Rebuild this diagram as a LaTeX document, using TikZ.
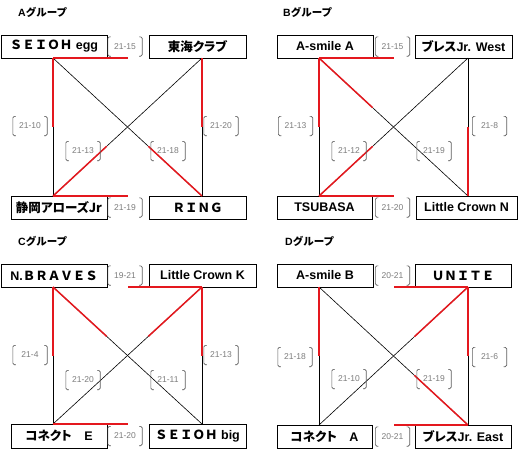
\documentclass[tikz,border=0pt]{standalone}
\usepackage{fontspec}
\setmainfont{Liberation Sans}
\newfontfamily\jp{Noto Sans CJK JP}
\newfontfamily\jpp{Noto Sans CJK JP}[RawFeature=+palt]
\usetikzlibrary{calc}
\definecolor{winred}{RGB}{228,24,30}
\definecolor{scoregray}{RGB}{125,125,125}
\definecolor{brkgray}{RGB}{95,95,95}
\newcommand\wseg[3]{\draw[win] (#1) -- ($(#1)!#3!(#2)$);}
\begin{document}
\begin{tikzpicture}[x=1pt,y=-1pt,
  box/.style={draw, line width=0.9pt, inner sep=0pt, minimum height=23pt,
    font=\bfseries\fontsize{12.5}{14}\selectfont},
  score/.style={inner sep=0pt, minimum width=34pt, minimum height=19pt,
    text=scoregray, font=\fontsize{8.5}{10}\selectfont},
  brk/.style={draw=brkgray, line width=0.6pt, rounded corners=1.5pt},
  ln/.style={line width=0.6pt, black},
  win/.style={line width=1.5pt, winred},
  title/.style={anchor=west, inner sep=0pt, font=\bfseries\fontsize{10.5}{12}\selectfont}]
\fill[white] (0,0) rectangle (519,451);
\useasboundingbox (0,0) rectangle (519,451);

% ---------- titles
\node[title] (tA) at (18,12.5) {A{\jp グループ}};
\node[title] (tB) at (283,12.5) {B{\jp グループ}};
\node[title] (tC) at (18,241) {C{\jp グループ}};
\node[title] (tD) at (285,241) {D{\jp グループ}};

% ---------- team boxes
\node[box, minimum width=106pt] (A1) at (54,46.5) {{\jp ＳＥＩＯＨ} egg};
\node[box, minimum width=97pt] (A2) at (197.5,46.5) {\jpp 東海クラブ};
\node[box, minimum width=96pt] (A3) at (59,207.5) {{\jpp 静岡アローズJr}};
\node[box, minimum width=97pt] (A4) at (197.5,207.5) {\jp ＲＩＮＧ};

\node[box, minimum width=96pt] (B1) at (325,46.5) {A-smile A};
\node[box, minimum width=97pt] (B2) at (463.5,46.5) {{\jpp ブレス}Jr. West};
\node[box, minimum width=95pt] (B3) at (324.5,207.5) {TSUBASA};
\node[box, minimum width=101pt] (B4) at (466.5,207.5) {Little Crown N};

\node[box, minimum width=106pt] (C1) at (54,275.5) {N.{\jp ＢＲＡＶＥＳ}};
\node[box, minimum width=107pt] (C2) at (202.5,275.5) {Little Crown K};
\node[box, minimum width=96pt, minimum height=24pt] (C3) at (59,436) {{\jpp コネクト}{\jp 　}E};
\node[box, minimum width=97pt, minimum height=24pt] (C4) at (197.5,436) {{\jp ＳＥＩＯＨ} big};

\node[box, minimum width=96pt] (D1) at (325,275.5) {A-smile B};
\node[box, minimum width=96pt] (D2) at (463,275.5) {\jp ＵＮＩＴＥ};
\node[box, minimum width=95pt] (D3) at (324.5,436.5) {{\jpp コネクト}{\jp 　}A};
\node[box, minimum width=96pt] (D4) at (463,436.5) {{\jpp ブレス}Jr. East};

% ---------- line end points
\coordinate (A-tl) at (53,58);  \coordinate (A-tr) at (202,58);
\coordinate (A-bl) at (53,196); \coordinate (A-br) at (202,196);
\coordinate (B-tl) at (319,58);  \coordinate (B-tr) at (468,58);
\coordinate (B-bl) at (319,196); \coordinate (B-br) at (468,196);
\coordinate (C-tl) at (53,287);  \coordinate (C-tr) at (202,287);
\coordinate (C-bl) at (53,424);  \coordinate (C-br) at (202,424);
\coordinate (D-tl) at (319,287); \coordinate (D-tr) at (468,287);
\coordinate (D-bl) at (319,425); \coordinate (D-br) at (468,425);

\foreach \g in {A,B,C,D}{
  \draw[ln] (\g-tl) -- (\g-bl);
  \draw[ln] (\g-tr) -- (\g-br);
  \draw[ln] (\g-tl) -- (\g-br);
  \draw[ln] (\g-tr) -- (\g-bl);
}

% ---------- winners (red halves)
\wseg{A-tl}{A-tr}{.5} \wseg{A-tl}{A-bl}{.5} \wseg{A-tr}{A-br}{.5}
\wseg{A-bl}{A-tr}{.36} \wseg{A-br}{A-tl}{.36} \wseg{A-bl}{A-br}{.5}
\wseg{B-tl}{B-tr}{.5} \wseg{B-tl}{B-bl}{.5} \wseg{B-br}{B-tr}{.5}
\wseg{B-tl}{B-br}{.36} \wseg{B-bl}{B-tr}{.36} \wseg{B-bl}{B-br}{.5}
\wseg{C-tr}{C-tl}{.5} \wseg{C-tl}{C-bl}{.5} \wseg{C-tr}{C-br}{.5}
\wseg{C-tl}{C-br}{.36} \wseg{C-tr}{C-bl}{.36} \wseg{C-bl}{C-br}{.5}
\wseg{D-tr}{D-tl}{.5} \wseg{D-tl}{D-bl}{.5} \wseg{D-tr}{D-br}{.5}
\wseg{D-tr}{D-bl}{.36} \wseg{D-br}{D-tl}{.36} \wseg{D-br}{D-bl}{.5}

% ---------- scores
\node[score] (A-s1) at (125,46.5) {21-15};
\node[score] (A-s2) at (125,207.5) {21-19};
\node[score] (A-s3) at (30,126) {21-10};
\node[score] (A-s4) at (221,126) {21-20};
\node[score] (A-s5) at (83,151) {21-13};
\node[score] (A-s6) at (168,151) {21-18};

\node[score] (B-s1) at (392.5,46.5) {21-15};
\node[score] (B-s2) at (392.5,207.5) {21-20};
\node[score] (B-s3) at (295.5,126) {21-13};
\node[score] (B-s4) at (489.5,126) {21-8};
\node[score] (B-s5) at (349,151) {21-12};
\node[score] (B-s6) at (434,151) {21-19};

\node[score] (C-s1) at (125,275.5) {19-21};
\node[score] (C-s2) at (125,436) {21-20};
\node[score] (C-s3) at (30,355) {21-4};
\node[score] (C-s4) at (221,355) {21-13};
\node[score] (C-s5) at (83,380) {21-20};
\node[score] (C-s6) at (168,380) {21-11};

\node[score] (D-s1) at (392.5,275.5) {20-21};
\node[score] (D-s2) at (392.5,436.5) {20-21};
\node[score] (D-s3) at (295,357) {21-18};
\node[score] (D-s4) at (489.5,357) {21-6};
\node[score] (D-s5) at (349,379) {21-10};
\node[score] (D-s6) at (434,379) {21-19};

\foreach \g in {A,B,C,D}{
  \foreach \k in {1,...,6}{
    \draw[brk] ([xshift=3pt]\g-s\k.north west) -- (\g-s\k.north west)
      -- (\g-s\k.south west) -- ([xshift=3pt]\g-s\k.south west);
    \draw[brk] ([xshift=-3pt]\g-s\k.north east) -- (\g-s\k.north east)
      -- (\g-s\k.south east) -- ([xshift=-3pt]\g-s\k.south east);
  }
}
\end{tikzpicture}
\end{document}
